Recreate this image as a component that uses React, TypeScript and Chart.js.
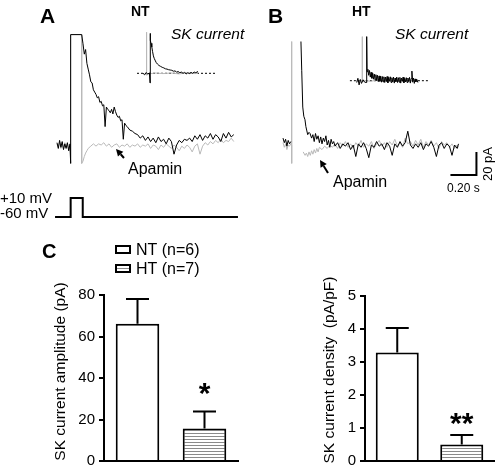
import React, { useEffect, useRef } from "react";
import { Chart, registerables } from "chart.js";

Chart.register(...registerables);

const FONT = "'Liberation Sans', Arial, Helvetica, sans-serif";
type Pt = [number, number | null];

// ---------- Panel A (NT): time (s), current (pA) ----------
const aControl: Pt[] = [
  [0, 2], [0.01, -3], [0.02, 4], [0.03, -2], [0.04, 3], [0.05, -4], [0.06, 1], [0.07, -3], [0.08, 2], [0.09, -5], [0.1, 1],
  [0.105, -16], [0.105, 96], [0.19, 96],
  [0.2, 88], [0.21, 79], [0.22, 83], [0.23, 71], [0.24, 66], [0.25, 61], [0.26, 55], [0.27, 54], [0.28, 48], [0.29, 46],
  [0.3, 44], [0.31, 41], [0.32, 42], [0.33, 37], [0.34, 38], [0.35, 34], [0.36, 35], [0.37, 16], [0.38, 33], [0.39, 31],
  [0.4, 30], [0.41, 28], [0.42, 31], [0.43, 27], [0.44, 33], [0.45, 29], [0.46, 26], [0.47, 24], [0.48, 25], [0.49, 21],
  [0.5, 22], [0.51, 5], [0.52, 19], [0.53, 17], [0.54, 16], [0.56, 13], [0.58, 12], [0.6, 10], [0.62, 9], [0.64, 6],
  [0.66, 8], [0.68, 4], [0.7, 7], [0.72, 3], [0.74, 6], [0.76, 2], [0.78, 7], [0.8, 3], [0.82, 5], [0.84, 1], [0.86, 6],
  [0.88, 3], [0.9, -8], [0.92, 0], [0.94, 4], [0.96, 2], [0.98, 5], [1, 4], [1.02, 6], [1.04, 3], [1.06, 8], [1.08, 5],
  [1.1, 9], [1.12, 4], [1.14, 8], [1.16, 6], [1.18, 10], [1.2, 5], [1.22, 9], [1.24, 7], [1.26, 3], [1.28, 10], [1.3, 6],
  [1.32, 11], [1.34, 7], [1.36, 9],
];
const aApamin: Pt[] = [
  [0, 1], [0.01, -2], [0.02, 3], [0.03, -3], [0.04, 2], [0.05, -3], [0.06, 2], [0.07, -2], [0.08, 1], [0.09, -4], [0.1, 0],
  [0.105, -16], [0.105, 96], [0.19, 96], [0.19, -16],
  [0.2, -14], [0.21, -10], [0.22, -7], [0.23, -5], [0.24, -3], [0.26, -1], [0.28, 1], [0.3, -1], [0.32, 1], [0.34, 0],
  [0.36, 2], [0.38, -1], [0.4, 1], [0.42, -2], [0.44, 0], [0.46, 1], [0.48, -2], [0.5, 0], [0.52, -1], [0.54, 1],
  [0.56, -2], [0.58, 0], [0.6, -1], [0.62, 1], [0.64, -2], [0.66, 0], [0.68, -1], [0.7, 1], [0.72, -3], [0.74, 0],
  [0.76, -1], [0.78, -4], [0.8, 0], [0.82, -2], [0.84, 1], [0.86, -1], [0.88, -3], [0.9, 0], [0.92, -2], [0.94, -5],
  [0.96, -1], [0.98, -3], [1, 0], [1.02, -2], [1.04, -6], [1.06, -1], [1.08, 1], [1.1, -8], [1.12, -1], [1.14, 2],
  [1.16, 0], [1.18, 3], [1.2, 1], [1.22, 4], [1.24, 2], [1.26, 5], [1.28, 2], [1.3, 4], [1.32, 3], [1.34, 6], [1.36, 3],
];
const aInsetSK: Pt[] = [
  [0, 0], [0.04, -5], [0.08, 2], [0.12, -2], [0.16, 1], [0.175, -32], [0.175, 133], [0.19, 110], [0.2, 100], [0.22, 88],
  [0.24, 72], [0.26, 58], [0.28, 50], [0.3, 44], [0.33, 36], [0.36, 31], [0.4, 26], [0.44, 23], [0.48, 20], [0.52, 18],
  [0.56, 15], [0.6, 14], [0.64, 12], [0.68, 11], [0.72, 10], [0.76, 7], [0.8, 8], [0.84, 4], [0.88, 6], [0.92, 2],
  [0.96, 4], [1, 0], [1.04, 3], [1.08, -2], [1.12, 2], [1.16, -1], [1.2, 3], [1.24, 0], [1.28, 4], [1.32, 2], [1.375, 6],
];
const aInsetApamin: Pt[] = [
  [0, 0], [0.05, -3], [0.09, 0], [0.09, 137], [0.09, -6], [0.15, -2], [0.3, 1], [0.5, -1], [0.7, 1], [0.9, -2],
  [1.1, 1], [1.3, -1], [1.375, 0],
];
const aInsetZero: Pt[] = [[-0.15, 0], [1.825, 0]];
// voltage protocol: time (s), membrane potential (mV)
const protocol: Pt[] = [[-0.015, -60], [0.105, -60], [0.105, 10], [0.198, 10], [0.198, -60], [1.392, -60]];

// ---------- Panel B (HT) ----------
const bControl: Pt[] = [
  [0, 6], [0.01, 2], [0.02, 5], [0.03, -1], [0.04, 4], [0.05, 1], [0.06, 3], [0.1, null],
  [0.138, 90], [0.144, 65], [0.152, 33], [0.16, 25], [0.169, 22], [0.176, 16], [0.182, 13], [0.19, 9], [0.2, 11], [0.208, 10],
  [0.22, 6], [0.23, 9], [0.24, 3], [0.25, 10], [0.26, 5], [0.27, 8], [0.28, 2], [0.29, 7], [0.3, 1], [0.31, 6], [0.32, 3],
  [0.33, 8], [0.34, 0], [0.35, 4], [0.36, -2], [0.37, 5], [0.38, 1], [0.39, 3], [0.4, -1],
  [0.42, 2], [0.44, -3], [0.46, 1], [0.48, -1], [0.5, 2], [0.52, -4], [0.54, 0], [0.56, -10], [0.58, 1], [0.6, -2],
  [0.62, 2], [0.64, -3], [0.66, -11], [0.68, 0], [0.7, -2], [0.72, 3], [0.74, -1], [0.76, 1], [0.78, -4], [0.8, 2],
  [0.82, -1], [0.84, -9], [0.86, 1], [0.88, -2], [0.9, 3], [0.92, -1], [0.94, 2], [0.96, 12], [0.98, 0], [1, -3],
  [1.02, 1], [1.04, -2], [1.06, 2], [1.08, -4], [1.1, 1], [1.12, -1], [1.14, 3], [1.16, -2], [1.18, -10], [1.2, 0],
  [1.22, 2], [1.24, -3], [1.26, 1], [1.28, -1], [1.3, -9], [1.32, 0], [1.34, -3], [1.35, 1],
];
const bApamin: Pt[] = [
  [0, 2], [0.01, -2], [0.02, 1], [0.03, -4], [0.04, 0], [0.05, -1], [0.06, 1], [0.067, 0], [0.067, 90], [0.067, -16],
  [0.11, null],
  [0.155, -6], [0.17, -9], [0.18, -7], [0.19, -10], [0.2, -6], [0.21, -9], [0.22, -5], [0.23, -8], [0.24, -4], [0.25, -7],
  [0.26, -3], [0.27, -6], [0.28, -2], [0.3, -4], [0.32, -1], [0.34, -3], [0.36, 0], [0.38, -2], [0.4, 1], [0.42, -3],
  [0.44, 2], [0.46, -1], [0.48, 3], [0.5, -2], [0.52, 1], [0.54, -3], [0.56, 2], [0.58, -1], [0.6, 4], [0.62, -2],
  [0.64, 1], [0.66, -1], [0.68, 3], [0.7, -3], [0.72, 1], [0.74, 4], [0.76, -1], [0.78, 2], [0.8, -2], [0.82, 3],
  [0.84, 0], [0.86, 5], [0.88, -1], [0.9, 2], [0.92, -2], [0.94, 6], [0.96, 1], [0.98, 3], [1, -1], [1.02, 4],
  [1.04, 0], [1.06, 5], [1.08, -2], [1.1, 3], [1.12, 0], [1.14, 4], [1.16, -1], [1.18, 2], [1.2, -3], [1.22, 3],
  [1.24, 0], [1.26, 2], [1.28, -2], [1.3, 1], [1.32, -3], [1.34, 0], [1.35, -2],
];
const bInsetSK: Pt[] = [
  [0, -6], [0.03, 8], [0.06, -14], [0.09, 4], [0.12, -9], [0.16, 3], [0.2, -5], [0.25, -6], [0.25, 147], [0.26, 30],
  [0.28, 38], [0.3, 18], [0.32, 34], [0.34, 12], [0.36, 28], [0.38, 8], [0.4, 25], [0.42, 5], [0.44, 22], [0.46, 2],
  [0.48, 20], [0.5, 0], [0.52, 18], [0.54, -3], [0.56, 16], [0.58, -2], [0.6, 15], [0.62, -5], [0.64, 14], [0.66, -4],
  [0.68, 13], [0.7, -6], [0.72, 12], [0.74, -3], [0.76, 14], [0.78, -7], [0.8, 11], [0.82, -2], [0.84, 13], [0.86, -6],
  [0.88, 10], [0.9, -4], [0.92, 12], [0.94, -8], [0.96, 9], [0.98, -3], [1, 12], [1.02, -6], [1.04, 10], [1.06, -5],
  [1.08, 11], [1.1, -8], [1.12, 9], [1.14, -2], [1.16, 12], [1.18, -7], [1.2, 8], [1.22, -4], [1.24, 10], [1.26, -6],
  [1.28, 9], [1.3, -3], [1.32, 11], [1.34, -8], [1.36, 7], [1.38, 32], [1.4, -5], [1.42, 9], [1.44, -9], [1.46, 6],
  [1.48, -4], [1.5, 5], [1.53, -6],
];
const bInsetApamin: Pt[] = [
  [0, 0], [0.05, -3], [0.1, 2], [0.14, 0], [0.14, 147], [0.14, -3], [0.2, 1], [0.35, -2], [0.5, 2], [0.65, -1],
  [0.8, 2], [0.95, -2], [1.1, 1], [1.25, -1], [1.4, 2], [1.53, 0],
];
const bInsetZero: Pt[] = [[-0.17, 0], [1.83, 0]];
// scale bar: 0.20 s, 20 pA
const scaleBarTime = [1.288, 1.488, 1.488];
const scaleBarCurrent = [-26, -26, -6];

// ---------- Panel C ----------
const groups = ["NT", "HT"];
const legendLabels = ["NT (n=6)", "HT (n=7)"];
const amplitudeMean = [66.2, 15.7];
const amplitudeSem = [11.9, 8.2];
const amplitudeMarks = ["", "*"];
const densityMean = [3.29, 0.5];
const densitySem = [0.74, 0.29];
const densityMarks = ["", "**"];

// ---------- helpers ----------
const GRAY = "#b9b9b9";
const toXY = (pts: Pt[]) => pts.map(([x, y]) => ({ x, y }));
const zip = (xs: number[], ys: number[]) => xs.map((x, i) => ({ x, y: ys[i] }));

// linear hidden axis: px0 = pixel of value 0, k = pixels per unit, size = canvas extent
function hx(px0: number, k: number, size: number) {
  return { type: "linear", axis: "x", display: false, min: -px0 / k, max: (size - px0) / k };
}
function hy(px0: number, k: number, size: number) {
  return { type: "linear", axis: "y", display: false, min: (px0 - size) / k, max: px0 / k };
}

type TextItem = { text: string; x: number; y: number; font: string; align?: CanvasTextAlign; rot?: boolean; base?: CanvasTextBaseline };
type Arrow = { x1: number; y1: number; x2: number; y2: number };

function annotations(texts: TextItem[], arrows: Arrow[] = [], extra?: (ctx: CanvasRenderingContext2D) => void) {
  return {
    id: "annotations",
    afterDraw(chart: any) {
      const ctx: CanvasRenderingContext2D = chart.ctx;
      ctx.save();
      ctx.fillStyle = "#000";
      ctx.strokeStyle = "#000";
      for (const t of texts) {
        ctx.save();
        ctx.font = `${t.font} ${FONT}`;
        ctx.textAlign = t.align || "left";
        ctx.textBaseline = t.base || "alphabetic";
        ctx.translate(t.x, t.y);
        if (t.rot) ctx.rotate(-Math.PI / 2);
        ctx.fillText(t.text, 0, 0);
        ctx.restore();
      }
      for (const a of arrows) {
        const ang = Math.atan2(a.y2 - a.y1, a.x2 - a.x1);
        const len = 7, hw = 3.6;
        const bx = a.x2 - len * Math.cos(ang), by = a.y2 - len * Math.sin(ang);
        ctx.lineWidth = 2;
        ctx.beginPath();
        ctx.moveTo(a.x1, a.y1);
        ctx.lineTo(bx, by);
        ctx.stroke();
        ctx.beginPath();
        ctx.moveTo(a.x2, a.y2);
        ctx.lineTo(bx + hw * Math.sin(ang), by - hw * Math.cos(ang));
        ctx.lineTo(bx - hw * Math.sin(ang), by + hw * Math.cos(ang));
        ctx.closePath();
        ctx.fill();
      }
      if (extra) extra(ctx);
      ctx.restore();
    },
  };
}

function errorBars(sem: number[], marks: string[], markGap: number) {
  return {
    id: "errorBars",
    afterDatasetsDraw(chart: any) {
      const ctx: CanvasRenderingContext2D = chart.ctx;
      const ys = chart.scales.y;
      chart.data.datasets.forEach((ds: any, di: number) => {
        const meta = chart.getDatasetMeta(di);
        ds.data.forEach((v: number | null, i: number) => {
          if (v == null) return;
          const bar = meta.data[i];
          const x = bar.x;
          const yErr = ys.getPixelForValue(v + sem[i]);
          ctx.save();
          ctx.strokeStyle = "#000";
          ctx.lineWidth = 2;
          ctx.beginPath();
          ctx.moveTo(x, bar.y);
          ctx.lineTo(x, yErr);
          ctx.moveTo(x - 11.5, yErr);
          ctx.lineTo(x + 11.5, yErr);
          ctx.stroke();
          if (marks[i]) {
            ctx.fillStyle = "#000";
            ctx.font = `bold 30px ${FONT}`;
            ctx.textAlign = "center";
            ctx.textBaseline = "alphabetic";
            ctx.fillText(marks[i], x, yErr - markGap);
          }
          ctx.restore();
        });
      });
    },
  };
}

function stripes(): CanvasPattern {
  const c = document.createElement("canvas");
  c.width = 4;
  c.height = 3;
  const g = c.getContext("2d")!;
  g.fillStyle = "#ffffff";
  g.fillRect(0, 0, 4, 3);
  g.fillStyle = "#8a8a8a";
  g.fillRect(0, 0, 4, 1);
  return g.createPattern(c, "repeat")!;
}

const baseOpts = {
  responsive: false,
  animation: false,
  events: [],
  plugins: { legend: { display: false }, tooltip: { enabled: false } },
  elements: { point: { radius: 0 }, line: { tension: 0, fill: false, borderJoinStyle: "miter" } },
};

const trace = (label: string, data: any[], color: string, xAxisID: string, yAxisID: string, width = 1, dash: number[] = []) => ({
  label, data, borderColor: color, borderWidth: width, borderDash: dash, xAxisID, yAxisID, spanGaps: false,
});

// ---------- chart factories ----------
function panelA() {
  return {
    type: "line",
    data: {
      datasets: [
        trace("Control", toXY(aControl), "#000", "x", "y"),
        trace("Apamin", toXY(aApamin), GRAY, "x", "y"),
        trace("SK current", toXY(aInsetSK), "#000", "xi", "yi"),
        trace("SK current (apamin)", toXY(aInsetApamin), GRAY, "xi", "yi"),
        trace("zero", toXY(aInsetZero), "#000", "xi", "yi", 1, [2, 2]),
        trace("Voltage", toXY(protocol), "#000", "x", "yv", 2),
      ],
    },
    options: {
      ...baseOpts,
      scales: {
        x: hx(57, 130, 250),
        y: hy(145, 1.15, 230),
        xi: hx(143, 40, 250),
        yi: hy(73.3, 0.3, 230),
        yv: hy(217 - 60 * (19 / 70), 19 / 70, 230),
      },
    },
    plugins: [
      annotations(
        [
          { text: "A", x: 40, y: 23, font: "bold 21px" },
          { text: "NT", x: 131, y: 16, font: "bold 14px" },
          { text: "SK current", x: 171, y: 39, font: "italic 15.5px" },
          { text: "Apamin", x: 128, y: 174, font: "16px" },
          { text: "+10 mV", x: 0, y: 203, font: "15px" },
          { text: "-60 mV", x: 0, y: 218, font: "15px" },
        ],
        [{ x1: 124, y1: 158, x2: 116, y2: 149 }]
      ),
    ],
  };
}

function panelB() {
  return {
    type: "line",
    data: {
      datasets: [
        trace("Control", toXY(bControl), "#000", "x", "y"),
        trace("Apamin", toXY(bApamin), GRAY, "x", "y"),
        trace("SK current", toXY(bInsetSK), "#000", "xi", "yi"),
        trace("SK current (apamin)", toXY(bInsetApamin), GRAY, "xi", "yi"),
        trace("zero", toXY(bInsetZero), "#000", "xi", "yi", 1, [2, 2]),
        trace("Scale bar", zip(scaleBarTime, scaleBarCurrent), "#000", "x", "y", 2),
      ],
    },
    options: {
      ...baseOpts,
      scales: {
        x: hx(33, 130, 248),
        y: hy(145, 1.15, 230),
        xi: hx(106.7, 40, 248),
        yi: hy(80.7, 0.3, 230),
      },
    },
    plugins: [
      annotations(
        [
          { text: "B", x: 18, y: 23, font: "bold 21px" },
          { text: "HT", x: 102, y: 16, font: "bold 14px" },
          { text: "SK current", x: 145, y: 39, font: "italic 15.5px" },
          { text: "Apamin", x: 83, y: 187, font: "16px" },
          { text: "0.20 s", x: 197, y: 192, font: "12px" },
          { text: "20 pA", x: 238, y: 164, font: "13px", align: "center", base: "middle", rot: true },
        ],
        [{ x1: 78, y1: 173, x2: 70, y2: 160 }]
      ),
    ],
  };
}

function barPanel(o: {
  means: number[]; sem: number[]; marks: string[]; markGap: number; max: number; step: number; title: string;
  titleX: number; titleY: number;
  yWidth: number; xHeight: number; padTop: number; padRight: number; barPct: number;
  texts: TextItem[]; legend?: { x: number; y: number; gap: number };
}) {
  const pattern = stripes();
  const fills: (string | CanvasPattern)[] = ["#ffffff", pattern];
  const tickFont = { family: FONT, size: 15 };
  return {
    type: "bar",
    data: {
      labels: groups,
      datasets: groups.map((g, i) => ({
        label: legendLabels[i],
        data: groups.map((_, j) => (j === i ? o.means[i] : null)),
        backgroundColor: fills[i],
        borderColor: "#000",
        borderWidth: 2,
        grouped: false,
        categoryPercentage: 1,
        barPercentage: o.barPct,
      })),
    },
    options: {
      ...baseOpts,
      layout: { padding: { top: o.padTop, right: o.padRight, left: 0, bottom: 0 } },
      scales: {
        x: {
          type: "category",
          grid: { display: false },
          ticks: { display: false },
          border: { display: true, color: "#000", width: 2 },
          afterFit: (s: any) => { s.height = o.xHeight; },
        },
        y: {
          min: 0,
          max: o.max,
          ticks: { stepSize: o.step, color: "#000", font: tickFont, padding: 4 },
          grid: { display: true, drawOnChartArea: false, drawTicks: true, tickLength: 5, color: "#000", lineWidth: 2 },
          border: { display: true, color: "#000", width: 2 },
          title: { display: false, text: o.title },
          afterFit: (s: any) => { s.width = o.yWidth; },
        },
      },
    },
    plugins: [
      errorBars(o.sem, o.marks, o.markGap),
      annotations(
        [...o.texts, { text: o.title, x: o.titleX, y: o.titleY, font: "15.5px", align: "center", base: "middle", rot: true }],
        [],
        o.legend ? (ctx) => {
          const L = o.legend!;
          groups.forEach((_, i) => {
            const y = L.y + i * L.gap;
            ctx.fillStyle = fills[i] as any;
            ctx.fillRect(L.x, y, 14, 7);
            ctx.lineWidth = 2;
            ctx.strokeStyle = "#000";
            ctx.strokeRect(L.x, y, 14, 7);
            ctx.fillStyle = "#000";
            ctx.font = `16px ${FONT}`;
            ctx.textAlign = "left";
            ctx.textBaseline = "alphabetic";
            ctx.fillText(legendLabels[i], L.x + 20, y + 9);
          });
        } : undefined
      ),
    ],
  };
}

// ---------- React ----------
function ChartCanvas({ left, top, width, height, make }: { left: number; top: number; width: number; height: number; make: () => any }) {
  const ref = useRef<HTMLCanvasElement>(null);
  useEffect(() => {
    const chart = new Chart(ref.current as HTMLCanvasElement, make());
    return () => chart.destroy();
  }, []);
  return <canvas ref={ref} width={width} height={height} style={{ position: "absolute", left, top, width, height }} />;
}

export default function App() {
  return (
    <div style={{ position: "absolute", left: 0, top: 0, width: 498, height: 474, background: "#fff", overflow: "hidden" }}>
      <ChartCanvas left={0} top={0} width={250} height={230} make={panelA} />
      <ChartCanvas left={250} top={0} width={248} height={230} make={panelB} />
      <ChartCanvas
        left={30}
        top={235}
        width={215}
        height={239}
        make={() =>
          barPanel({
            means: amplitudeMean, sem: amplitudeSem, marks: amplitudeMarks, markGap: 8, max: 80, step: 20,
            title: "SK current amplitude (pA)", titleX: 31, titleY: 136.5,
            yWidth: 74, xHeight: 9, padTop: 60, padRight: 7, barPct: 0.65,
            texts: [{ text: "C", x: 12, y: 23, font: "bold 20px" }],
            legend: { x: 86, y: 11, gap: 19 },
          })
        }
      />
      <ChartCanvas
        left={310}
        top={235}
        width={188}
        height={239}
        make={() =>
          barPanel({
            means: densityMean, sem: densitySem, marks: densityMarks, markGap: 2, max: 5, step: 1,
            title: "SK current density  (pA/pF)", titleX: 20, titleY: 135,
            yWidth: 55, xHeight: 10, padTop: 61, padRight: 4, barPct: 0.667,
            texts: [],
          })
        }
      />
    </div>
  );
}
